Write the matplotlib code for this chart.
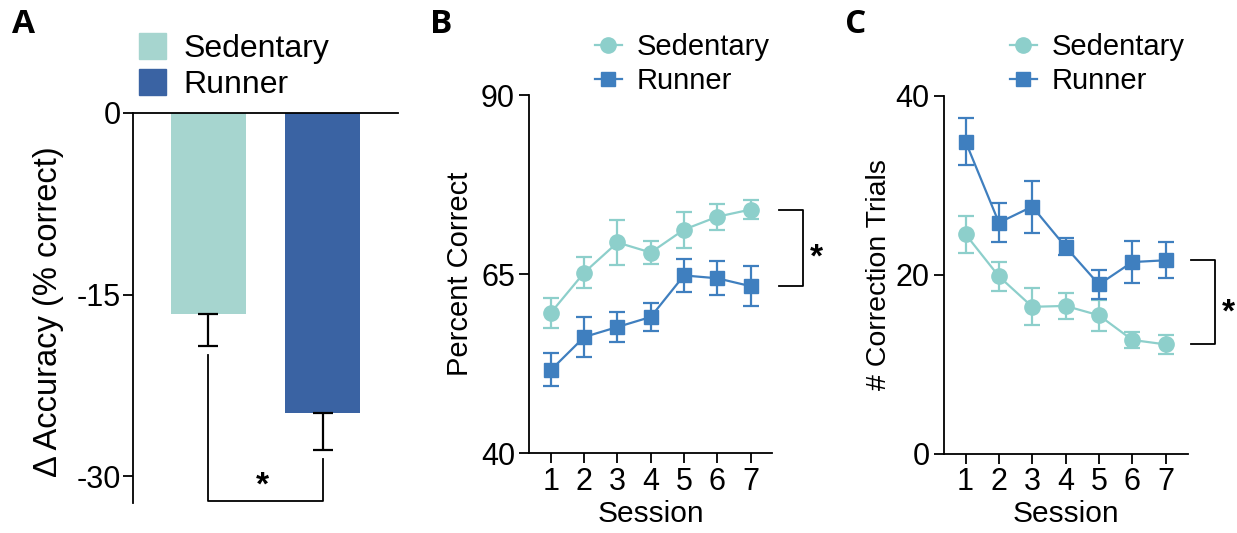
import numpy as np
import matplotlib
matplotlib.use("Agg")
import matplotlib.pyplot as plt
from matplotlib.patches import Patch
from matplotlib.lines import Line2D

plt.rcParams['font.family'] = ['Liberation Sans', 'DejaVu Sans']

# ---- data ----
groups = ["Sedentary", "Runner"]
delta_acc = [-16.6, -24.8]
delta_acc_sem = [2.6, 3.0]

sessions = [1, 2, 3, 4, 5, 6, 7]
pct_sed = [59.6, 65.2, 69.4, 68.0, 71.2, 73.0, 74.0]
pct_sed_sem = [2.1, 2.2, 3.2, 1.6, 2.5, 1.8, 1.3]
pct_run = [51.6, 56.2, 57.6, 59.0, 64.8, 64.4, 63.3]
pct_run_sem = [2.3, 2.8, 2.1, 1.9, 2.25, 2.4, 2.8]

corr_sed = [24.5, 19.8, 16.4, 16.5, 15.45, 12.7, 12.2]
corr_sed_sem = [2.1, 1.6, 2.05, 1.45, 1.7, 0.9, 1.1]
corr_run = [34.85, 25.8, 27.6, 23.1, 18.9, 21.4, 21.6]
corr_run_sem = [2.6, 2.15, 2.9, 0.95, 1.6, 2.3, 2.0]

bar_colors = ["#a6d5cf", "#3a63a3"]
sed_color = "#8dcfcb"
run_color = "#3f7fbf"

W, H = 1237, 533
fig = plt.figure(figsize=(W / 100, H / 100), dpi=100)


def px_axes(x0, y0, x1, y1):
    # axes from pixel box (top-left origin)
    return fig.add_axes([x0 / W, 1 - y1 / H, (x1 - x0) / W, (y1 - y0) / H])


TICK_FS = 22
LW = 1.6

# ---- panel A ----
axA = px_axes(133, 113, 398, 503)
xpos = np.arange(len(groups))
axA.bar(xpos, delta_acc, width=0.66, color=bar_colors, zorder=2)
axA.errorbar(xpos, delta_acc, yerr=[delta_acc_sem, [0, 0]], fmt='none',
             ecolor='black', elinewidth=LW, capsize=7.5, capthick=LW, zorder=3)
axA.set_xlim(-0.662, 1.662)
axA.set_ylim(-32.2, 0)
axA.set_yticks([0, -15, -30])
axA.set_yticklabels(["0", "-15", "-30"])
axA.set_xticks([])
for s in ["right", "bottom"]:
    axA.spines[s].set_visible(False)
axA.spines["top"].set_linewidth(1.3)
axA.spines["left"].set_linewidth(1.3)
axA.tick_params(axis='y', labelsize=TICK_FS, length=7, width=1.3, pad=2)
axA.set_ylabel("Δ Accuracy (% correct)", fontsize=23.5)
axA.yaxis.set_label_coords(-0.26, 0.49)
# significance bracket
low = -32.0
tops = [m - s - 0.8 for m, s in zip(delta_acc, delta_acc_sem)]
axA.plot([xpos[0], xpos[0], xpos[1], xpos[1]], [tops[0], low, low, tops[1]],
         color='black', lw=1.3, clip_on=False)
axA.annotate("*", (xpos.mean() - 0.03, low), xytext=(0, 4), textcoords='offset points',
             ha='center', va='baseline', fontsize=24, fontweight='bold')
axA.legend(handles=[Patch(color=c, label=g) for c, g in zip(bar_colors, groups)],
           loc='upper left', bbox_to_anchor=(139 / W, 1 - 33 / H),
           bbox_transform=fig.transFigure, frameon=False, fontsize=23,
           handlelength=0.85, handleheight=0.88, handletextpad=0.53,
           labelspacing=0.15, borderaxespad=0, borderpad=0)


def line_panel(box, sed, sed_sem, run, run_sem, ylim, yticks, ylabel, ylab_fs,
               ylab_x, br_x):
    ax = px_axes(*box)
    ax.errorbar(sessions, sed, yerr=sed_sem, color=sed_color, marker='o',
                markersize=11, lw=LW, elinewidth=LW, capsize=6, capthick=LW,
                label="Sedentary", zorder=3)
    ax.errorbar(sessions, run, yerr=run_sem, color=run_color, marker='s',
                markersize=10.5, lw=LW, elinewidth=LW, capsize=6, capthick=LW,
                label="Runner", zorder=3)
    ax.set_xlim(0.34, 7.66)
    ax.set_ylim(*ylim)
    ax.set_xticks(sessions)
    ax.set_yticks(yticks)
    for s in ["right", "top"]:
        ax.spines[s].set_visible(False)
    for s in ["left", "bottom"]:
        ax.spines[s].set_linewidth(1.3)
    ax.tick_params(labelsize=TICK_FS, length=7, width=1.3, pad=3)
    ax.set_xlabel("Session", fontsize=21.5, labelpad=2)
    ax.set_ylabel(ylabel, fontsize=ylab_fs)
    ax.yaxis.set_label_coords(ylab_x, 0.5)
    # significance bracket between last points
    y_a, y_b = max(sed[-1], run[-1]), min(sed[-1], run[-1])
    ax.plot([br_x[0], br_x[1], br_x[1], br_x[0]], [y_a, y_a, y_b, y_b],
            color='black', lw=1.3, clip_on=False)
    ax.annotate("*", (br_x[1] + 0.4, (y_a + y_b) / 2), xytext=(0, -13.5),
                textcoords='offset points', ha='center', va='baseline',
                fontsize=24, fontweight='bold', annotation_clip=False)
    return ax


axB = line_panel((529, 95, 772.5, 453), pct_sed, pct_sed_sem, pct_run, pct_run_sem,
                 (40, 90), [40, 65, 90], "Percent Correct", 21, -0.226,
                 (7.86, 8.58))
axC = line_panel((943.6, 95.6, 1187.6, 453.6), corr_sed, corr_sed_sem, corr_run,
                 corr_run_sem, (0, 40), [0, 20, 40], "# Correction Trials", 20.5,
                 -0.211, (7.76, 8.48))

for ax, lx in [(axB, 595), (axC, 1010)]:
    handles = [Line2D([], [], color=sed_color, marker='o', markersize=11, lw=LW),
               Line2D([], [], color=run_color, marker='s', markersize=10.5, lw=LW)]
    ax.legend(handles, groups, loc='upper left',
              bbox_to_anchor=(lx / W, 1 - 33 / H), bbox_transform=fig.transFigure,
              frameon=False, fontsize=21, handlelength=0.92, handletextpad=0.51,
              labelspacing=0.2, borderaxespad=0, borderpad=0)

# panel letters
for letter, x in [("A", 12), ("B", 430), ("C", 845)]:
    fig.text(x / W, 1 - 8 / H, letter, ha='left', va='top', fontsize=24,
             fontweight='bold', family=['Open Sans', 'DejaVu Sans'])

fig.savefig("out.png", dpi=100)
